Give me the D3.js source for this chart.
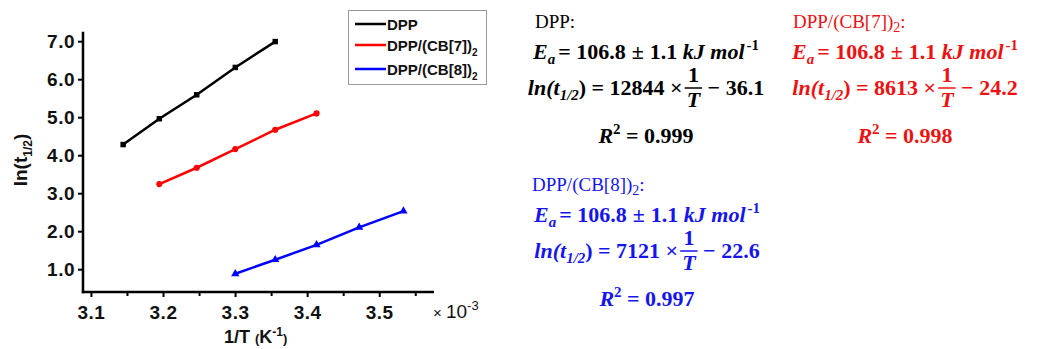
<!DOCTYPE html>
<html><head><meta charset="utf-8">
<script src="https://cdn.jsdelivr.net/npm/d3@7"></script>
<style>body{margin:0;background:#fff}svg{display:block}svg text{white-space:pre}</style>
</head><body>
<svg id="c" width="1047" height="349"></svg>
<script>
// ---- data (1/T in units of 1e-3 K^-1, ln(t1/2)) ----
const dppX = [3.1447, 3.1949, 3.2468, 3.3003, 3.3557];
const dppY = [4.28, 4.96, 5.59, 6.31, 6.99];
const cb7X = [3.1949, 3.2468, 3.3003, 3.3557, 3.4130];
const cb7Y = [3.24, 3.67, 4.16, 4.67, 5.10];
const cb8X = [3.3003, 3.3557, 3.4130, 3.4722, 3.5336];
const cb8Y = [0.88, 1.25, 1.64, 2.10, 2.53];
const xTicks = [3.1, 3.2, 3.3, 3.4, 3.5];
const xMinorTicks = [3.15, 3.25, 3.35, 3.45, 3.55];
const yTicks = [1.0, 2.0, 3.0, 4.0, 5.0, 6.0, 7.0];
const seriesNames = ["DPP", "DPP/(CB[7])", "DPP/(CB[8])"];
const seriesColors = ["#000000", "#ff0000", "#0000ff"];
const slopes = ["12844", "8613", "7121"];
const intercepts = ["36.1", "24.2", "22.6"];
const r2s = ["0.999", "0.998", "0.997"];
const eaVal = "106.8", eaErr = "1.1";

const svg = d3.select("#c");
const x = d3.scaleLinear().domain([3.089, 3.576]).range([83, 434]);
const y = d3.scaleLinear().domain([0.40, 7.25]).range([292, 31.7]);
const sans = "'Liberation Sans', Arial, sans-serif";

// axes
const gx = svg.append("g").attr("transform", "translate(0,292)")
  .call(d3.axisBottom(x).tickValues(xTicks).tickFormat(d3.format(".1f")).tickSize(5).tickSizeOuter(0).tickPadding(6));
const gxm = svg.append("g").attr("transform", "translate(0,292)")
  .call(d3.axisBottom(x).tickValues(xMinorTicks).tickFormat("").tickSize(4).tickSizeOuter(0));
gxm.select(".domain").remove();
const gy = svg.append("g").attr("transform", "translate(83,0)")
  .call(d3.axisLeft(y).tickValues(yTicks).tickFormat(d3.format(".1f")).tickSize(5).tickSizeOuter(0).tickPadding(3));
[gx, gxm, gy].forEach(g => {
  g.selectAll(".domain").attr("stroke", "#000").attr("stroke-width", 2.5);
  g.selectAll(".tick line").attr("stroke", "#000").attr("stroke-width", 2);
  g.selectAll("text").attr("font-family", sans).attr("font-weight", "bold").attr("font-size", 19)
    .attr("letter-spacing", 0.5).attr("fill", "#111");
});
gy.select(".domain").attr("d", `M0,${y.range()[1]}V${y.range()[0] + 1.2}`);
gx.select(".domain").attr("d", `M${x.range()[0] - 1.2},0H${x.range()[1]}`);
gx.selectAll(".tick text").attr("dy", "0.82em");

// x10^-3
const xm = svg.append("text").attr("x", 433).attr("y", 318).attr("font-family", sans).attr("fill", "#111");
xm.append("tspan").attr("font-size", 15).text("\u00D7 ");
xm.append("tspan").attr("font-size", 19).text("10");
xm.append("tspan").attr("font-size", 13).attr("dy", -8).text("-3");

// axis titles
const xt = svg.append("text").attr("x", 224).attr("y", 343).attr("font-family", sans).attr("font-weight", "bold").attr("fill", "#111");
xt.append("tspan").attr("font-size", 18).text("1/T ");
xt.append("tspan").attr("font-size", 13).text("(");
xt.append("tspan").attr("font-size", 18).text("K");
xt.append("tspan").attr("font-size", 12).attr("dy", -7).text("-1");
xt.append("tspan").attr("font-size", 13).attr("dy", 7).text(")");

const yt = svg.append("text").attr("transform", "translate(27,160) rotate(-90)").attr("text-anchor", "middle")
  .attr("font-family", sans).attr("font-weight", "bold").attr("fill", "#111");
yt.append("tspan").attr("font-size", 19).text("ln(t");
yt.append("tspan").attr("font-size", 12).attr("dy", 5).text("1/2");
yt.append("tspan").attr("font-size", 19).attr("dy", -5).text(")");

// series
const series = [
  {xs: dppX, ys: dppY, sym: d3.symbolSquare},
  {xs: cb7X, ys: cb7Y, sym: d3.symbolCircle},
  {xs: cb8X, ys: cb8Y, sym: d3.symbolTriangle}
];
const line = d3.line().x(d => x(d[0])).y(d => y(d[1]));
series.forEach((s, i) => {
  const pts = s.xs.map((v, j) => [v, s.ys[j]]);
  svg.append("path").datum(pts).attr("d", line).attr("fill", "none")
    .attr("stroke", seriesColors[i]).attr("stroke-width", 2.5);
  svg.selectAll(null).data(pts).enter().append("path")
    .attr("transform", d => `translate(${x(d[0])},${y(d[1])})`)
    .attr("d", d3.symbol().type(s.sym).size(30)).attr("fill", seriesColors[i]);
});

// legend
const lg = svg.append("g");
lg.append("rect").attr("x", 348.5).attr("y", 10.5).attr("width", 138).attr("height", 74)
  .attr("fill", "#fff").attr("stroke", "#999").attr("stroke-width", 1);
const rowsY = [24, 45, 69];
seriesNames.forEach((n, i) => {
  lg.append("line").attr("x1", 355).attr("x2", 386).attr("y1", rowsY[i]).attr("y2", rowsY[i])
    .attr("stroke", seriesColors[i]).attr("stroke-width", 2.5);
  const t = lg.append("text").attr("x", 387).attr("y", rowsY[i] + 5.5).attr("font-family", sans)
    .attr("font-weight", "bold").attr("font-size", 15).attr("fill", "#111");
  t.append("tspan").text(n);
  if (i > 0) t.append("tspan").attr("font-size", 10).attr("dy", 5).text("2");
});

// equations
const serif = "'Liberation Serif', 'DejaVu Serif', serif";
const EQ = 22;
function eqLine(cx, by, segs, color) {
  const g = svg.append("g");
  let cur = 0;
  segs.forEach(s => {
    if (s.gap) { cur += s.gap; return; }
    if (s.frac) {
      const a = g.append("text").attr("y", by - 13).attr("font-family", serif).attr("font-weight", "bold")
        .attr("font-size", EQ).attr("fill", color).text(s.frac[0]);
      const b = g.append("text").attr("y", by + 12).attr("font-family", serif).attr("font-weight", "bold")
        .attr("font-style", "italic").attr("font-size", EQ).attr("fill", color).text(s.frac[1]);
      const wa = a.node().getComputedTextLength(), wb = b.node().getComputedTextLength();
      const w = Math.max(wa, wb) + 4;
      a.attr("x", cur + (w - wa) / 2); b.attr("x", cur + (w - wb) / 2);
      g.append("line").attr("x1", cur).attr("x2", cur + w).attr("y1", by - 7).attr("y2", by - 7)
        .attr("stroke", color).attr("stroke-width", 1.5);
      cur += w;
      return;
    }
    const fs = (s.sub || s.sup) ? EQ * 0.68 : EQ;
    const yy = s.sub ? by + 5 : s.sup ? by - 9 : by;
    const t = g.append("text").attr("x", cur).attr("y", yy).attr("font-family", serif)
      .attr("font-weight", "bold").attr("font-style", s.i ? "italic" : "normal")
      .attr("font-size", fs).attr("fill", color).text(s.t);
    cur += t.node().getComputedTextLength();
  });
  g.attr("transform", `translate(${cx - cur / 2},0)`);
}
function titleText(x0, by, name, color, sub) {
  const t = svg.append("text").attr("x", x0).attr("y", by).attr("font-family", serif)
    .attr("font-size", 19).attr("fill", color);
  t.append("tspan").text(name);
  if (sub) { t.append("tspan").attr("font-size", 14).attr("dy", 4).text("2"); t.append("tspan").attr("dy", -4).text(":"); }
  else t.append("tspan").text(":");
}
function block(i, cx, tx, ty, color) {
  titleText(tx, ty, seriesNames[i], color, i > 0);
  eqLine(cx, ty + 31, [
    {t: "E", i: true}, {t: "a", i: true, sub: true}, {gap: 3}, {t: "= " + eaVal}, {gap: 6}, {t: "\u00B1"}, {gap: 6},
    {t: eaErr + " "}, {t: "kJ mol", i: true}, {gap: 2}, {t: "-1", sup: true}], color);
  eqLine(cx, ty + 67, [
    {t: "ln(", i: true}, {t: "t", i: true}, {t: "1/2", i: true, sub: true}, {t: ") = " + slopes[i] + " \u00D7"},
    {gap: 2}, {frac: ["1", "T"]}, {t: " \u2212 " + intercepts[i]}], color);
  eqLine(cx, ty + 115, [{t: "R", i: true}, {t: "2", sup: true}, {t: " = " + r2s[i]}], color);
}
block(0, 646, 535, 28, "#000");
block(1, 905, 793, 28, "#ee1111");
block(2, 647, 532, 191, "#1515ee");
</script>
</body></html>
